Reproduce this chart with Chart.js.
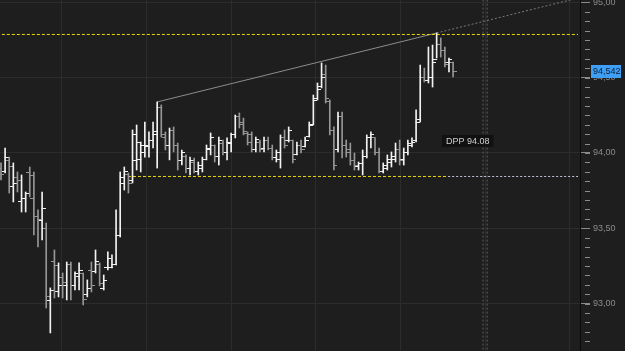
<!DOCTYPE html>
<html>
<head>
<meta charset="utf-8">
<script src="https://cdn.jsdelivr.net/npm/chart.js@4.4.1/dist/chart.umd.min.js"></script>
<style>
  html, body { margin: 0; padding: 0; background: #1e1e1e; overflow: hidden; }
</style>
</head>
<body>
<canvas id="chart" width="625" height="351"></canvas>
<script>
// OHLC bars, oldest first
const opens = [
  93.90, 93.88, 93.95, 93.78, 93.84, 93.68, 93.70, 93.87, 93.70, 93.58,
  93.55, 93.50, 93.02, 93.28, 93.08, 93.17, 93.12, 93.26, 93.12, 93.18,
  93.20, 93.06, 93.22, 93.21, 93.26, 93.10, 93.24, 93.24, 93.26, 93.45,
  93.80, 93.86, 93.82, 93.95, 93.96, 94.00, 94.04, 94.08, 94.14, 94.30,
  94.10, 94.05, 94.15, 94.05, 93.95, 93.98, 93.90, 93.94, 93.88, 93.90,
  93.96, 94.02, 94.05, 93.98, 94.06, 94.00, 94.06, 94.12, 94.24, 94.20,
  94.13, 94.12, 94.02, 94.07, 94.03, 94.08, 94.03, 93.97, 93.96, 94.10,
  94.08, 94.08, 93.99, 94.05, 94.04, 94.11, 94.19, 94.36, 94.44, 94.52,
  94.34, 94.15, 94.02, 94.24, 94.05, 94.02, 93.95, 93.91, 93.93, 93.98,
  94.10, 94.10, 94.00, 93.88, 93.90, 93.94, 93.96, 94.02, 93.96, 94.00,
  94.05, 94.08, 94.22, 94.50, 94.48, 94.50, 94.62, 94.72, 94.68, 94.60,
  94.60
];
const highs = [
  93.934, 94.033, 93.973, 93.934, 93.874, 93.854, 93.741, 93.907, 93.874, 93.622,
  93.741, 93.535, 93.104, 93.356, 93.270, 93.203, 93.276, 93.276, 93.210, 93.270,
  93.203, 93.157, 93.276, 93.356, 93.270, 93.190, 93.343, 93.323, 93.622, 93.874,
  93.907, 93.867, 94.153, 94.186, 94.073, 94.206, 94.140, 94.206, 94.339, 94.319,
  94.140, 94.166, 94.173, 94.066, 94.020, 93.987, 93.973, 93.967, 93.940, 93.973,
  94.053, 94.133, 94.053, 94.106, 94.086, 94.100, 94.133, 94.252, 94.266, 94.232,
  94.140, 94.140, 94.106, 94.086, 94.106, 94.106, 94.053, 94.020, 94.120, 94.153,
  94.173, 94.086, 94.073, 94.086, 94.106, 94.206, 94.385, 94.465, 94.598, 94.584,
  94.352, 94.173, 94.272, 94.272, 94.086, 94.066, 94.000, 93.940, 94.020, 94.120,
  94.140, 94.100, 94.033, 93.934, 93.987, 94.007, 94.066, 94.086, 94.033, 94.086,
  94.100, 94.286, 94.584, 94.564, 94.704, 94.717, 94.797, 94.764, 94.704, 94.631,
  94.604
];
const lows = [
  93.821, 93.867, 93.734, 93.675, 93.741, 93.608, 93.608, 93.708, 93.456, 93.376,
  93.422, 92.971, 92.805, 93.037, 93.044, 93.037, 93.024, 93.024, 93.090, 93.090,
  92.991, 93.044, 93.077, 93.203, 93.117, 93.090, 93.223, 93.236, 93.256, 93.442,
  93.754, 93.734, 93.801, 93.887, 93.874, 93.973, 93.973, 94.033, 93.900, 94.106,
  94.020, 93.954, 94.007, 93.887, 93.920, 93.867, 93.854, 93.867, 93.854, 93.874,
  93.954, 93.987, 93.940, 93.920, 93.987, 93.954, 94.007, 94.100, 94.166, 94.120,
  94.053, 94.007, 94.007, 94.007, 94.007, 94.020, 93.954, 93.940, 93.900, 94.033,
  94.073, 93.934, 93.987, 94.000, 94.040, 94.106, 94.186, 94.352, 94.432, 94.332,
  94.120, 93.887, 94.007, 93.967, 93.973, 93.920, 93.887, 93.887, 93.854, 93.967,
  94.033, 93.987, 93.867, 93.867, 93.887, 93.907, 93.940, 93.920, 93.920, 93.987,
  94.040, 94.073, 94.206, 94.471, 94.465, 94.438, 94.631, 94.637, 94.571, 94.538,
  94.505
];
const closes = [
  93.86, 93.97, 93.91, 93.80, 93.82, 93.70, 93.73, 93.85, 93.58, 93.56,
  93.63, 93.05, 93.09, 93.25, 93.12, 93.14, 93.26, 93.12, 93.20, 93.22,
  93.03, 93.10, 93.12, 93.28, 93.13, 93.15, 93.30, 93.26, 93.45, 93.84,
  93.88, 93.80, 94.12, 94.07, 94.05, 94.05, 94.08, 94.12, 94.30, 94.12,
  94.05, 94.15, 94.05, 93.95, 94.00, 93.90, 93.95, 93.88, 93.92, 93.96,
  94.03, 94.10, 93.98, 94.08, 94.00, 94.07, 94.12, 94.24, 94.19, 94.14,
  94.07, 94.02, 94.09, 94.02, 94.08, 94.03, 93.97, 94.00, 94.10, 94.05,
  94.15, 93.96, 94.05, 94.02, 94.08, 94.18, 94.35, 94.42, 94.50, 94.36,
  94.15, 93.92, 94.24, 94.05, 94.00, 93.95, 93.92, 93.93, 93.98, 94.10,
  94.12, 94.00, 93.88, 93.92, 93.96, 93.98, 94.02, 93.95, 94.00, 94.06,
  94.07, 94.20, 94.50, 94.48, 94.50, 94.60, 94.72, 94.68, 94.59, 94.62,
  94.542
];

// price axis
const yTicks = [93.0, 93.5, 94.0, 94.5, 95.0];
const minorStep = 0.0625;
// time gridlines, in bar units
const timeGrid = [14.8, 35.4, 56.0, 76.6, 97.2, 117.8, 138.4];

// drawn levels
const resistance = 94.787;
const support = 93.844;
const supportFrom = 30.9;
const dppFrom = 108.8;
const trendFrom = [38, 94.339];
const trendTo = [106, 94.797];
const markerX = [117.3, 118.3];
const dppLabel = 'DPP 94.08';
const dppValue = 94.08;
const dppAt = 107.2;

const xMin = -0.243, xMax = 140.88;
const yMin = 92.685, yMax = 95.016;

const WHITE = '#f2f2f2';
const GREY = '#969696';
const YELLOW = '#ecd800';
const up = closes.map((c, i) => c >= opens[i]);

function makeTick(side, color) {
  const c = document.createElement('canvas');
  c.width = 7; c.height = 1;
  const g = c.getContext('2d');
  g.fillStyle = color;
  g.fillRect(side === 'open' ? 0 : 3, 0, 4, 1);
  return c;
}
const tickImgs = {
  open: [makeTick('open', GREY), makeTick('open', WHITE)],
  close: [makeTick('close', GREY), makeTick('close', WHITE)]
};

const slope = (trendTo[1] - trendFrom[1]) / (trendTo[0] - trendFrom[0]);
const trendEnd = trendTo[1] + slope * (xMax + 1 - trendTo[0]);

function hline(from, to, value, color, dash) {
  return {
    type: 'line',
    data: [{ x: from, y: value }, { x: to, y: value }],
    borderColor: color, borderWidth: 1, borderDash: dash,
    pointRadius: 0
  };
}

const overlay = {
  id: 'overlay',
  beforeDraw(chart) {
    const { ctx } = chart;
    ctx.save();
    ctx.fillStyle = '#1e1e1e';
    ctx.fillRect(0, 0, chart.width, chart.height);
    ctx.restore();
  },
  afterDraw(chart) {
    const { ctx, chartArea, scales: { x, y } } = chart;
    ctx.save();

    // minor ticks on the price axis
    ctx.strokeStyle = '#8a8a8a';
    ctx.lineWidth = 1;
    for (let v = Math.ceil(yMin / minorStep) * minorStep; v <= yMax; v += minorStep) {
      const py = Math.round(y.getPixelForValue(v)) + 0.5;
      ctx.beginPath();
      ctx.moveTo(chartArea.right + 5, py);
      ctx.lineTo(chartArea.right + 10, py);
      ctx.stroke();
    }

    ctx.font = '9px "Liberation Sans", Arial, sans-serif';
    ctx.textBaseline = 'middle';
    ctx.textAlign = 'left';

    // DPP tag
    const dx = Math.round(x.getPixelForValue(dppAt));
    const dy = Math.round(y.getPixelForValue(dppValue));
    const dw = ctx.measureText(dppLabel).width + 8;
    ctx.fillStyle = '#111111';
    ctx.fillRect(dx, dy - 6, dw, 12);
    ctx.fillStyle = '#d0d0d0';
    ctx.fillText(dppLabel, dx + 4, dy + 0.5);

    // last price tag
    const last = closes[closes.length - 1];
    const ly = Math.round(y.getPixelForValue(last));
    ctx.fillStyle = '#3f9ff5';
    ctx.fillRect(chartArea.right + 11, ly - 6, 30, 13);
    ctx.fillStyle = '#0b1f36';
    ctx.fillText(last.toFixed(3).replace('.', ','), chartArea.right + 13, ly + 1);

    ctx.restore();
  }
};

new Chart(document.getElementById('chart'), {
  data: {
    datasets: [
      {
        type: 'bar',
        data: highs.map((h, i) => ({ x: i, y: [lows[i], h] })),
        backgroundColor: up.map(u => u ? WHITE : GREY),
        barThickness: 1,
        borderWidth: 0
      },
      {
        type: 'scatter',
        data: opens.map((v, i) => ({ x: i, y: v })),
        pointStyle: ctx => tickImgs.open[up[ctx.dataIndex] ? 1 : 0],
        pointRadius: 2
      },
      {
        type: 'scatter',
        data: closes.map((v, i) => ({ x: i, y: v })),
        pointStyle: ctx => tickImgs.close[up[ctx.dataIndex] ? 1 : 0],
        pointRadius: 2
      },
      hline(-1, 140.4, resistance, YELLOW, [3, 2]),
      hline(supportFrom, dppFrom, support, YELLOW, [3, 2]),
      hline(dppFrom, 140.4, support, '#c8c8e0', [2, 2]),
      {
        type: 'line',
        data: [{ x: trendFrom[0], y: trendFrom[1] }, { x: trendTo[0], y: trendTo[1] }],
        borderColor: '#8c8c8c', borderWidth: 1, pointRadius: 0
      },
      {
        type: 'line',
        data: [{ x: trendTo[0], y: trendTo[1] }, { x: xMax + 1, y: trendEnd }],
        borderColor: '#7a7a7a', borderWidth: 1, borderDash: [2, 2], pointRadius: 0
      },
      ...markerX.map(m => ({
        type: 'line',
        data: [{ x: m, y: yMin - 1 }, { x: m, y: yMax + 1 }],
        borderColor: '#5c5c5c', borderWidth: 1, borderDash: [2, 2], pointRadius: 0
      }))
    ]
  },
  options: {
    responsive: false,
    animation: false,
    devicePixelRatio: 1,
    layout: { padding: 0, autoPadding: false },
    plugins: { legend: { display: false }, tooltip: { enabled: false } },
    scales: {
      x: {
        type: 'linear',
        offset: false,
        min: xMin,
        max: xMax,
        afterBuildTicks: axis => { axis.ticks = timeGrid.map(v => ({ value: v })); },
        ticks: { display: false },
        grid: { color: '#2c2c2c', drawTicks: false, offset: false },
        border: { display: false },
        afterFit: s => { s.height = 0; s.paddingLeft = 0; s.paddingRight = 0; }
      },
      y: {
        position: 'right',
        offset: false,
        min: yMin,
        max: yMax,
        afterBuildTicks: axis => { axis.ticks = yTicks.map(v => ({ value: v })); },
        ticks: {
          color: '#8c8c8c',
          padding: 3,
          font: { family: '"Liberation Sans", Arial, sans-serif', size: 9 },
          callback: v => v.toFixed(2).replace('.', ',')
        },
        grid: { color: '#2c2c2c', tickColor: '#8a8a8a', tickLength: 10 },
        border: { color: '#0a0a0a', width: 1 },
        afterFit: s => { s.width = 45; s.paddingTop = 0; s.paddingBottom = 0; }
      }
    }
  },
  plugins: [overlay]
});
</script>
</body>
</html>
